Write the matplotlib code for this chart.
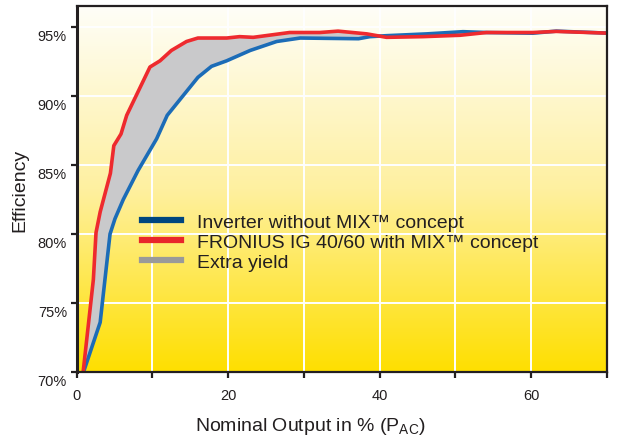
import numpy as np
import matplotlib.pyplot as plt
import matplotlib.transforms as mtransforms
from matplotlib.colors import LinearSegmentedColormap
from matplotlib.lines import Line2D

plt.rcParams['font.family'] = ['Liberation Sans', 'DejaVu Sans']

# efficiency curves (x = nominal output %, y = efficiency %)
blue_x = [0.9, 3.1, 4.4, 5.05, 6.15, 8.1, 10.55, 11.95, 16.0, 17.8, 19.8, 22.9,
          26.4, 29.5, 37.2, 38.7, 40.9, 46.2, 51.0, 54.1, 60.2, 63.3, 70.3]
blue_y = [70.0, 73.6, 80.0, 81.1, 82.5, 84.6, 86.9, 88.6, 91.35, 92.15, 92.55, 93.3,
          93.95, 94.2, 94.15, 94.3, 94.37, 94.5, 94.66, 94.6, 94.55, 94.7, 94.55]

red_x = [0.85, 2.2, 2.55, 3.1, 4.45, 4.9, 5.85, 6.6, 9.67, 11.0, 12.5, 14.5, 16.0,
         19.8, 21.5, 23.3, 28.1, 32.1, 34.5, 38.3, 40.9, 45.7, 50.6, 54.1, 60.2, 63.3, 70.3]
red_y = [70.0, 76.7, 80.1, 81.6, 84.4, 86.4, 87.25, 88.6, 92.1, 92.55, 93.3, 93.95, 94.2,
         94.2, 94.3, 94.25, 94.6, 94.6, 94.7, 94.5, 94.25, 94.3, 94.4, 94.6, 94.6, 94.68, 94.55]

y_ticks = [70, 75, 80, 85, 90, 95]
y_labels = ['70%', '75%', '80%', '85%', '90%', '95%']
x_ticks = [0, 20, 40, 60]
legend_labels = ['Inverter without MIX\u2122 concept',
                 'FRONIUS IG 40/60 with MIX\u2122 concept',
                 'Extra yield']

dark = '#231f20'

fig = plt.figure(figsize=(6.17, 4.39), dpi=100)
ax = fig.add_axes([0.1243, 0.1503, 0.8595, 0.8331])
ax.set_xlim(0, 70)
ax.set_ylim(70, 96.5)

# yellow background gradient
cmap = LinearSegmentedColormap.from_list('bg', ['#ffdf00', '#fef0a0', '#fffef8'])
grad = np.linspace(0, 1, 256).reshape(-1, 1)
ax.imshow(grad, cmap=cmap, aspect='auto', origin='lower',
          extent=[0, 70, 70, 96.5], zorder=0)

ax.set_xticks(np.arange(0, 71, 10), minor=True)
ax.set_xticks(x_ticks)
ax.set_yticks(y_ticks)
ax.set_yticklabels(y_labels)
ax.grid(True, which='both', color='white', linewidth=1.4, zorder=1)

# extra yield area between the curves
ax.fill(np.concatenate([red_x, blue_x[::-1]]), np.concatenate([red_y, blue_y[::-1]]),
        color='#c9c9cb', zorder=2, linewidth=0)
ax.plot(blue_x, blue_y, color='#1c6cb7', lw=2.6, zorder=3, solid_joinstyle='round')
ax.plot(red_x, red_y, color='#ee2a2e', lw=2.6, zorder=4, solid_joinstyle='round')

for s in ax.spines.values():
    s.set_color(dark)
    s.set_linewidth(1.6)
    s.set_zorder(5)
ax.spines['left'].set_linewidth(2.2)

ax.tick_params(which='both', direction='out', length=4, width=1.6, color=dark,
               labelcolor=dark, labelsize=10.5)
ax.tick_params(axis='x', pad=7.5)
ax.tick_params(axis='y', pad=3)
# y tick labels sit a little below their ticks
off = mtransforms.ScaledTranslation(0, -5.5 / 72, fig.dpi_scale_trans)
for lab in ax.get_yticklabels():
    lab.set_transform(lab.get_transform() + off)

ax.set_xlabel('Nominal Output in % (P$_\\mathregular{AC}$)', fontsize=14, color=dark)
ax.xaxis.set_label_coords(0.44, -0.117)
ax.set_ylabel('Efficiency', fontsize=14, color=dark, labelpad=7)

handles = [Line2D([], [], color='#00467f', lw=4.5),
           Line2D([], [], color='#e8262b', lw=4.5),
           Line2D([], [], color='#9a9a9a', lw=4.5)]
ax.legend(handles, legend_labels, loc='center left', bbox_to_anchor=(0.09, 0.355),
          frameon=False, fontsize=14, handlelength=2.0, handletextpad=0.85,
          labelspacing=0.12, labelcolor=dark)

fig.savefig('out.png', dpi=100)
